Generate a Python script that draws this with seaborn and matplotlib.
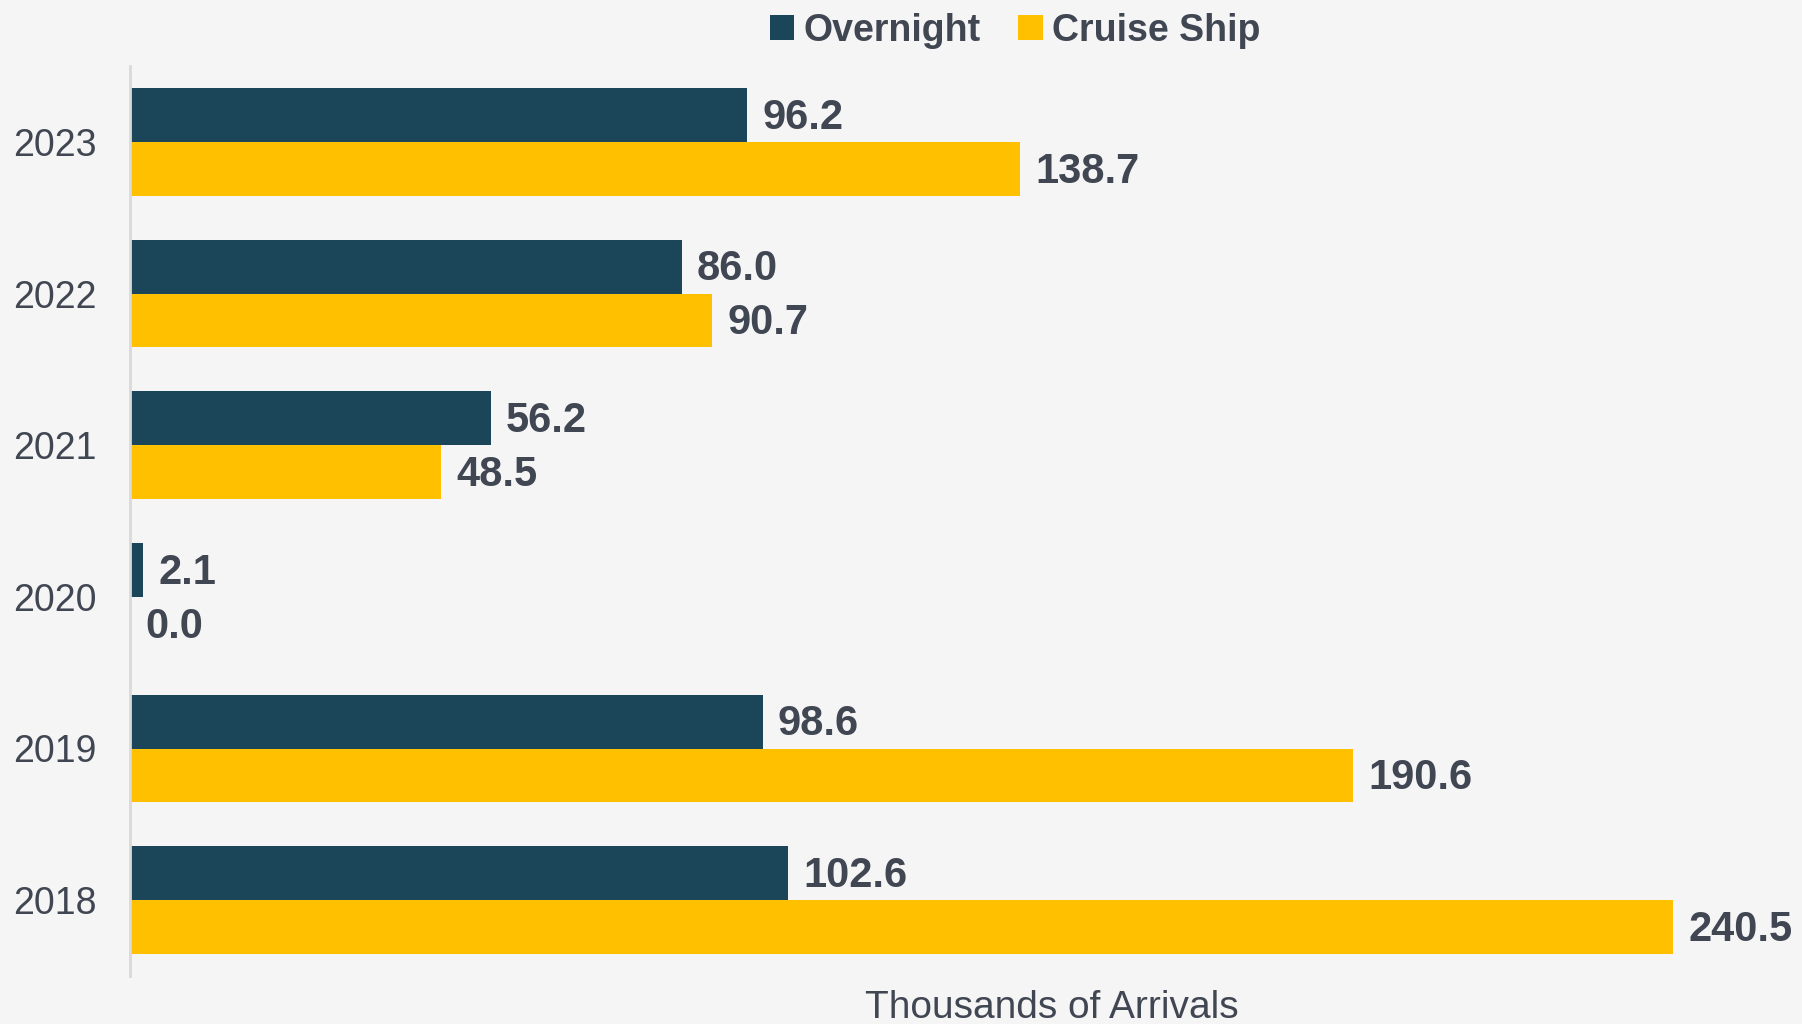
import matplotlib
matplotlib.use("Agg")
import matplotlib.pyplot as plt
import seaborn as sns
import pandas as pd
from matplotlib.patches import Patch

years = ["2023", "2022", "2021", "2020", "2019", "2018"]
overnight = [96.2, 86.0, 56.2, 2.1, 98.6, 102.6]
cruise = [138.7, 90.7, 48.5, 0.0, 190.6, 240.5]
series = ["Overnight", "Cruise Ship"]
colors = {"Overnight": "#1B4659", "Cruise Ship": "#FFC000"}

df = pd.DataFrame({
    "Year": years * 2,
    "Value": overnight + cruise,
    "Series": ["Overnight"] * len(years) + ["Cruise Ship"] * len(years),
})

sns.set_theme(style="white")
plt.rcParams["font.family"] = ["Liberation Sans", "DejaVu Sans"]
TXT = "#404652"
BG = "#F5F5F5"

fig = plt.figure(figsize=(18.02, 10.24), dpi=100, facecolor=BG)
ax = fig.add_axes([130 / 1802, 48 / 1024, 1604 / 1802, 910 / 1024])
ax.set_facecolor(BG)

sns.barplot(data=df, y="Year", x="Value", hue="Series", order=years,
            hue_order=series, palette=colors, orient="h", width=0.71,
            linewidth=0, saturation=1, ax=ax, legend=False)

for cont in ax.containers:
    anns = ax.bar_label(cont, fmt="%.1f", padding=11, fontsize=30,
                        fontweight="bold", color=TXT)
    for a in anns:
        a.xyann = (11, -2)

ax.set_xlim(0, 250)
ax.set_ylim(5.5, -0.5)
for s in ["top", "right", "bottom"]:
    ax.spines[s].set_visible(False)
ax.spines["left"].set_color("#D9D9D9")
ax.spines["left"].set_linewidth(2)
ax.set_xticks([])
ax.set_ylabel("")
ax.tick_params(axis="y", length=0, pad=24, labelsize=27, labelcolor=TXT)
ax.set_xlabel("Thousands of Arrivals", fontsize=28, color=TXT)
ax.xaxis.set_label_coords(0.575, -0.015)

handles = [Patch(facecolor=colors[s], edgecolor="none", label=s) for s in series]
fig.legend(handles=handles, loc="center", bbox_to_anchor=(1015 / 1802, 1 - 31 / 1024),
           ncol=2, frameon=False, handlelength=0.65, handleheight=0.65,
           handletextpad=0.25, columnspacing=1.0,
           prop={"size": 27, "weight": "bold"}, labelcolor=TXT)

fig.savefig("out.png", dpi=100, facecolor=BG)
